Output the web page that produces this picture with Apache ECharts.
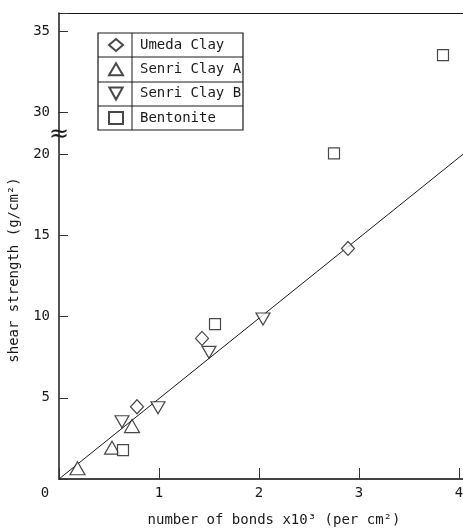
<!DOCTYPE html>
<html><head><meta charset="utf-8">
<script src="https://cdn.jsdelivr.net/npm/echarts@6/dist/echarts.min.js"></script>
<style>html,body{margin:0;padding:0;background:#fff}#c{width:463px;height:528px}</style>
</head><body><div id="c"></div>
<script>
const seriesNames = ['Umeda Clay', 'Senri Clay A', 'Senri Clay B', 'Bentonite'];
const umedaClay = [[0.78, 4.45], [1.43, 8.66], [2.89, 14.2]];
const senriClayA = [[0.185, 0.66], [0.53, 1.93], [0.73, 3.26]];
const senriClayB = [[0.63, 3.53], [0.99, 4.39], [1.50, 7.8], [2.04, 9.85]];
const bentonite = [[0.64, 1.78], [1.56, 9.54], [2.75, 20.2], [3.84, 33.5]];
const fitLine = [[0, 0], [4.04, 20]];
const xTickLabels = ['0', '1', '2', '3', '4'];
const yTickLabels = ['5', '10', '15', '20', '30', '35'];
const xTitle = 'number of bonds x10³ (per cm²)';
const yTitle = 'shear strength (g/cm²)';

const F = "'DejaVu Sans Mono', monospace";
const INK = '#1a1a1a';
const hollow = { color: '#fff', borderColor: INK, borderWidth: 1.2 };

const option = {
  backgroundColor: '#fff',
  animation: false,
  grid: { left: 59, right: 0, top: 13, bottom: 49, outerBoundsMode: 'none', containLabel: false },
  legend: {
    orient: 'vertical', left: 108, top: 38, padding: 0,
    itemWidth: 14, itemHeight: 12, itemGap: 10.3,
    selectedMode: false,
    data: seriesNames,
    textStyle: { fontFamily: F, fontSize: 14, lineHeight: 14, color: INK, padding: [0, 0, 0, 12] }
  },
  xAxis: [{
    type: 'value', min: 0, max: 4.04, interval: 1,
    axisLine: { show: true, lineStyle: { color: '#444', width: 2 } },
    axisTick: { show: true, inside: true, length: 11, lineStyle: { color: '#333', width: 1 } },
    splitLine: { show: false },
    axisLabel: {
      margin: 7, fontFamily: F, fontSize: 14, color: INK,
      formatter: v => { const s = xTickLabels[Math.round(v)]; return v === 0 ? '{o|' + s + '}' : s; },
      rich: { o: { padding: [0, 28, 0, 0], fontFamily: F, fontSize: 14, color: INK } }
    },
    name: xTitle, nameLocation: 'middle', nameGap: 34,
    nameTextStyle: { fontFamily: F, fontSize: 14, color: INK, padding: [0, 0, 0, 26] }
  }, {
    type: 'value', position: 'top', min: 0, max: 4.04,
    axisLine: { show: true, lineStyle: { color: INK, width: 1.2 } },
    axisTick: { show: false }, axisLabel: { show: false }, splitLine: { show: false }
  }],
  yAxis: {
    type: 'value', min: 0, max: 36.1, interval: 5,
    breaks: [{ start: 20, end: 30, gap: 2.6 }],
    breakArea: { show: false },
    axisLine: { show: true, lineStyle: { color: INK, width: 1.5 } },
    axisTick: { show: true, inside: true, length: 9, lineStyle: { color: '#333', width: 1 } },
    splitLine: { show: false },
    axisLabel: {
      margin: 9, fontFamily: F, fontSize: 14, color: INK,
      formatter: v => yTickLabels.indexOf(String(v)) >= 0 ? String(v) : ''
    },
    name: yTitle, nameLocation: 'middle', nameGap: 38,
    nameTextStyle: { fontFamily: F, fontSize: 14, color: INK, padding: [0, 48, 0, 0] }
  },
  graphic: [
    { type: 'rect', shape: { x: 98, y: 33, width: 145, height: 97 }, style: { fill: 'none', stroke: INK, lineWidth: 1.2 }, z: 10 },
    { type: 'line', shape: { x1: 98, y1: 57, x2: 243, y2: 57 }, style: { stroke: INK, lineWidth: 1 }, z: 10 },
    { type: 'line', shape: { x1: 98, y1: 82, x2: 243, y2: 82 }, style: { stroke: INK, lineWidth: 1 }, z: 10 },
    { type: 'line', shape: { x1: 98, y1: 106, x2: 243, y2: 106 }, style: { stroke: INK, lineWidth: 1 }, z: 10 },
    { type: 'line', shape: { x1: 132, y1: 33, x2: 132, y2: 130 }, style: { stroke: INK, lineWidth: 1 }, z: 10 }
  ],
  series: [
    { name: seriesNames[0], type: 'scatter', symbol: 'diamond', symbolSize: [13, 14], data: umedaClay, itemStyle: hollow, z: 3 },
    { name: seriesNames[1], type: 'scatter', symbol: 'triangle', symbolSize: [15, 13], data: senriClayA, itemStyle: hollow, z: 3 },
    { name: seriesNames[2], type: 'scatter', symbol: 'path://M0,0 L10,0 L5,9 Z', symbolSize: [14, 12], data: senriClayB, itemStyle: hollow, z: 3 },
    { name: seriesNames[3], type: 'scatter', symbol: 'rect', symbolSize: 11, data: bentonite, itemStyle: hollow, z: 3 },
    { name: 'fit', type: 'line', data: fitLine, symbol: 'none', silent: true, lineStyle: { color: INK, width: 1 }, z: 2 }
  ]
};

const chart = echarts.init(document.getElementById('c'), null, { renderer: 'canvas' });
chart.setOption(option);
const yLo = chart.convertToPixel({ yAxisIndex: 0 }, 20);
const yHi = chart.convertToPixel({ yAxisIndex: 0 }, 30);
const x0 = chart.convertToPixel({ xAxisIndex: 0 }, 0);
chart.setOption({
  graphic: [{
    id: 'axisJoin', type: 'line', z: 19,
    shape: { x1: x0, y1: yLo, x2: x0, y2: yHi },
    style: { stroke: INK, lineWidth: 1.5 }
  }, {
    id: 'brk', type: 'text', x: x0, y: (yLo + yHi) / 2 + 2, z: 20,
    style: { text: '≈', fontSize: 24, fontFamily: 'DejaVu Sans', fill: INK, align: 'center', verticalAlign: 'middle' }
  }]
});
</script>
</body></html>
